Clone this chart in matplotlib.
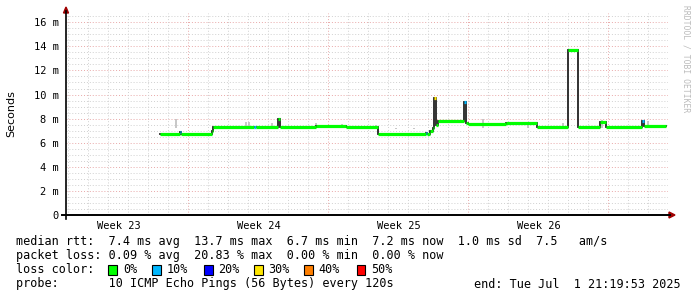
import matplotlib
matplotlib.use("Agg")
import matplotlib.pyplot as plt
from matplotlib.patches import Rectangle, Polygon
from matplotlib.lines import Line2D
import numpy as np

# median rtt steps: start day, end day, value (ms), loss (%)
seg_start = [4.70, 5.68, 5.75, 7.30, 7.35, 9.42, 9.48, 10.60, 10.68, 12.5, 14.0,
             15.60, 18.00, 18.05, 18.20, 18.35, 18.42, 18.52, 18.60, 19.90, 20.00,
             20.10, 22.0, 23.55, 25.10, 25.60, 26.70, 27.00, 28.80, 28.88]
seg_end = seg_start[1:] + [30.0]
seg_rtt = [6.70, 6.85, 6.75, 7.00, 7.30, 7.30, 7.30, 8.00, 7.30, 7.35, 7.30,
           6.75, 6.80, 6.75, 7.00, 7.25, 9.70, 7.50, 7.80, 9.40, 7.60,
           7.55, 7.60, 7.30, 13.70, 7.30, 7.75, 7.30, 7.80, 7.35]
seg_loss = [0, 10, 0, 0, 0, 10, 0, 0, 0, 0, 0,
            0, 10, 0, 0, 0, 30, 0, 0, 10, 0,
            0, 0, 0, 0, 0, 0, 0, 10, 0]

# smoke (ping spread) spikes: day, top value (ms)
smoke_t = [5.5, 9.0, 9.13, 10.3, 12.5, 13.8, 15.5, 16.5, 17.4, 20.85, 23.1, 24.85, 26.8, 29.1]
smoke_top = [8.0, 7.75, 7.7, 7.6, 7.6, 7.55, 7.5, 7.1, 7.1, 7.95, 7.7, 7.6, 7.9, 7.8]

weeks = ["Week 23", "Week 24", "Week 25", "Week 26"]
week_centers = [2.625, 9.625, 16.625, 23.625]
week_bounds = [6.125, 13.125, 20.125, 27.125]

loss_levels = [0, 10, 20, 30, 40, 50]
loss_colors = ["#00ff00", "#00b8ff", "#0000ff", "#ffe600", "#ff7f00", "#ff0000"]

stats_lines = [
    "median rtt:  7.4 ms avg  13.7 ms max  6.7 ms min  7.2 ms now  1.0 ms sd  7.5   am/s",
    "packet loss: 0.09 % avg  20.83 % max  0.00 % min  0.00 % now",
]
probe_text = "probe:       10 ICMP Echo Pings (56 Bytes) every 120s"
end_text = "end: Tue Jul  1 21:19:53 2025"

W, H = 697, 297
XMAX, YMAX = 30.1, 16.8
MONO = "DejaVu Sans Mono"
FS = 8.45


def fx(px):
    return px / W


def fy(py):
    return 1 - py / H


fig = plt.figure(figsize=(W / 100, H / 100), dpi=100)
ax = fig.add_axes([fx(66), fy(215), (668 - 66) / W, (215 - 12.6) / H])
ax.set_xlim(0, XMAX)
ax.set_ylim(0, YMAX)
for s in ax.spines.values():
    s.set_visible(False)

# grid
dot = (0, (1, 2))
for y in np.arange(0.5, YMAX, 0.5):
    major = abs(y / 2 - round(y / 2)) < 1e-6
    ax.axhline(y, color="#e8a8a8" if major else "#d0d0d0", lw=0.7, ls=dot, zorder=0)
for x in np.arange(0.115, XMAX, 1.0):
    major = min(abs(x - b) for b in week_bounds) < 0.05
    ax.axvline(x, color="#e8a8a8" if major else "#d0d0d0", lw=0.7, ls=dot, zorder=0)

# smoke
ax.vlines(smoke_t, 7.2, smoke_top, color="#bdbdbd", lw=1.2, zorder=1)

# median line: dark step outline, then loss-colored segments
step_x, step_y = [], []
for a, b, v in zip(seg_start, seg_end, seg_rtt):
    step_x += [a, b]
    step_y += [v, v]
ax.plot(step_x, step_y, color="#222222", lw=1.3, zorder=2, solid_joinstyle="miter")
for a, b, v, l in zip(seg_start, seg_end, seg_rtt, seg_loss):
    c = loss_colors[loss_levels.index(l)]
    ax.plot([a, b], [v, v], color=c, lw=2.3, zorder=3, solid_capstyle="butt")

# ticks
ax.set_yticks(range(0, 17, 2))
ax.set_yticklabels(["0"] + ["%d m" % v for v in range(2, 17, 2)], fontsize=7.5, family=MONO)
ax.set_xticks(week_centers)
ax.set_xticklabels(weeks, fontsize=7.5, family=MONO)
ax.tick_params(length=0, pad=5)
ax.tick_params(axis="x", pad=4)

# axis lines + arrows
fig.add_artist(Line2D([fx(62), fx(670)], [fy(215), fy(215)], color="black", lw=1.4))
fig.add_artist(Line2D([fx(66), fx(66)], [fy(219), fy(11)], color="black", lw=1.2))
fig.add_artist(Polygon([[fx(669), fy(212)], [fx(675), fy(215)], [fx(669), fy(218)]],
                       closed=True, color="#a00000", transform=fig.transFigure))
fig.add_artist(Polygon([[fx(63.5), fy(13)], [fx(66), fy(7)], [fx(68.5), fy(13)]],
                       closed=True, color="#a00000", transform=fig.transFigure))

fig.text(fx(11), fy(114), "Seconds", rotation=90, ha="center", va="center", fontsize=8)
fig.text(fx(686), fy(5), "RRDTOOL / TOBI OETIKER", rotation=270, ha="center", va="top",
         fontsize=5.8, color="#bbbbbb", family=MONO)

# legend text
for i, line in enumerate(stats_lines):
    fig.text(fx(16), fy(241 + 14.5 * i), line, fontsize=FS, family=MONO, va="center")
fig.text(fx(16), fy(269.5), "loss color:", fontsize=FS, family=MONO, va="center")
box_x = [108.3, 152.3, 204, 254, 304, 356.7]
for bx, l, c in zip(box_x, loss_levels, loss_colors):
    fig.add_artist(Rectangle((fx(bx), fy(275)), 8.5 / W, 10.5 / H, facecolor=c,
                             edgecolor="black", lw=0.8, transform=fig.transFigure))
    fig.text(fx(bx + 14.5), fy(269.5), "%d%%" % l, fontsize=FS, family=MONO, va="center")
fig.text(fx(16), fy(284), probe_text, fontsize=FS, family=MONO, va="center")
fig.text(fx(681), fy(284), end_text, fontsize=FS, family=MONO, va="center", ha="right")

fig.savefig("out.png", dpi=100, facecolor="white")
